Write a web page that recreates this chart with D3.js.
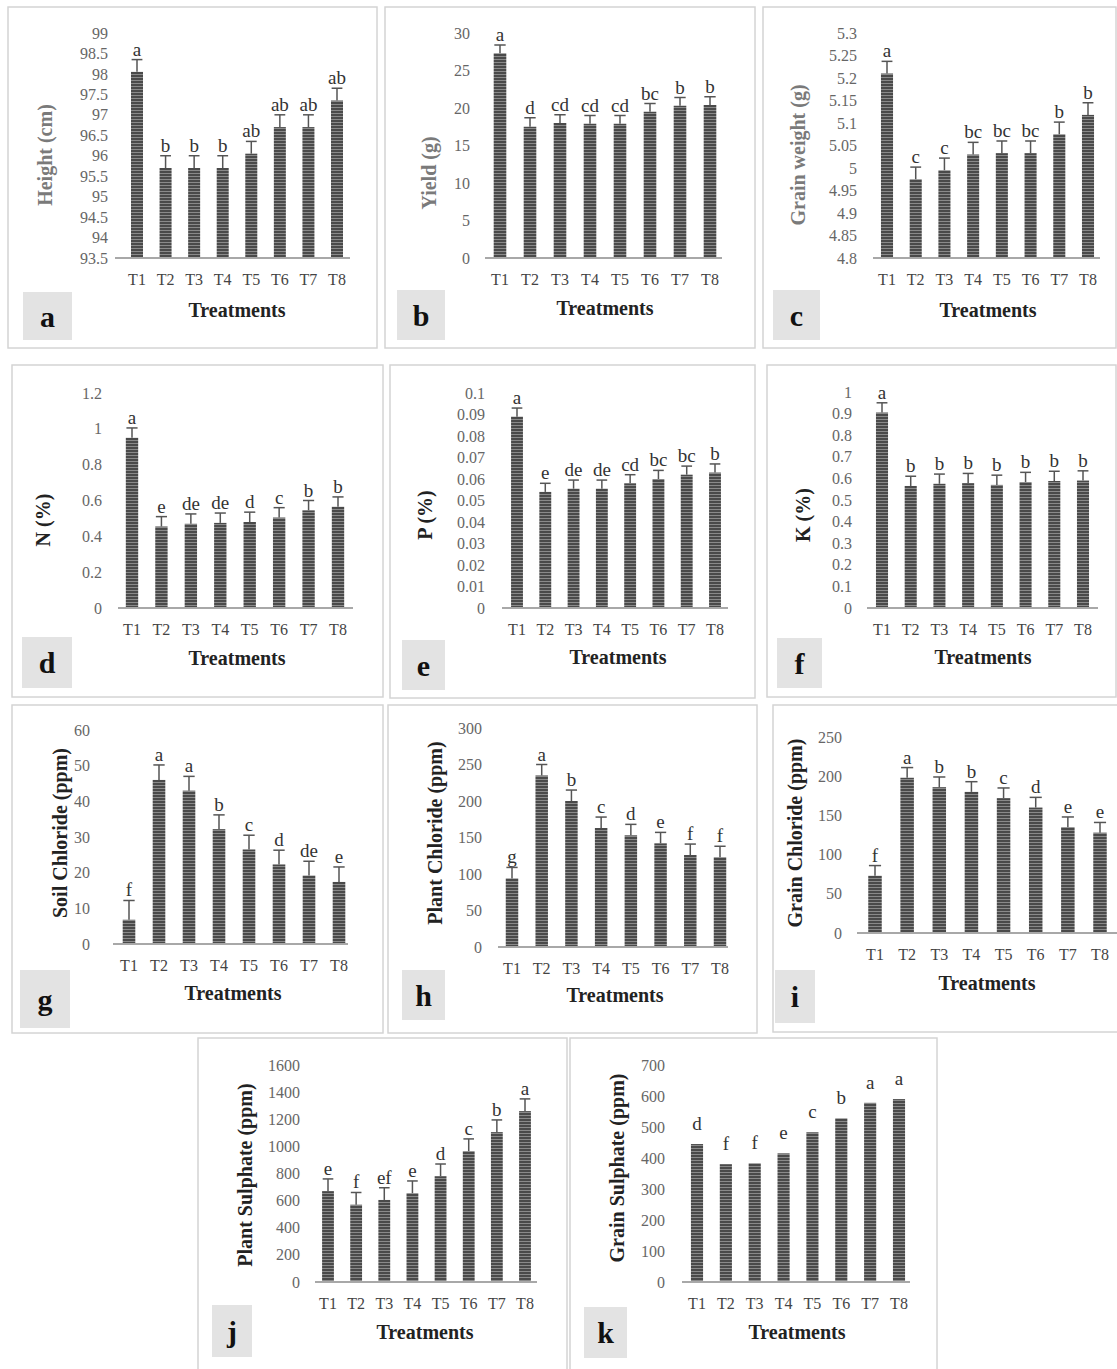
<!DOCTYPE html>
<html>
<head>
<meta charset="utf-8">
<script src="https://cdn.jsdelivr.net/npm/d3@7"></script>
<style>
  body { margin: 0; background: #fff; }
  svg { display: block; font-family: "Liberation Serif", "DejaVu Serif", serif; }
</style>
</head>
<body>
<div id="chart"></div>
<script>
let treatments = ["T1", "T2", "T3", "T4", "T5", "T6", "T7", "T8"];

// a - height
let heightVals = [98.05, 95.7, 95.7, 95.7, 96.05, 96.7, 96.7, 97.35];
let heightErr = [0.3, 0.3, 0.3, 0.3, 0.3, 0.3, 0.3, 0.3];
let heightLetters = ["a", "b", "b", "b", "ab", "ab", "ab", "ab"];
let heightTicks = [93.5, 94, 94.5, 95, 95.5, 96, 96.5, 97, 97.5, 98, 98.5, 99];

// b - yield
let yieldVals = [27.3, 17.5, 18.0, 17.9, 17.9, 19.5, 20.3, 20.4];
let yieldErr = [1.1, 1.2, 1.1, 1.1, 1.1, 1.1, 1.1, 1.1];
let yieldLetters = ["a", "d", "cd", "cd", "cd", "bc", "b", "b"];
let yieldTicks = [0, 5, 10, 15, 20, 25, 30];

// c - grain weight
let grainWVals = [5.21, 4.975, 4.995, 5.03, 5.033, 5.033, 5.075, 5.118];
let grainWErr = [0.027, 0.027, 0.027, 0.027, 0.027, 0.027, 0.027, 0.027];
let grainWLetters = ["a", "c", "c", "bc", "bc", "bc", "b", "b"];
let grainWTicks = [4.8, 4.85, 4.9, 4.95, 5, 5.05, 5.1, 5.15, 5.2, 5.25, 5.3];

// d - N
let nVals = [0.95, 0.455, 0.47, 0.475, 0.48, 0.505, 0.545, 0.565];
let nErr = [0.055, 0.055, 0.055, 0.055, 0.055, 0.055, 0.055, 0.055];
let nLetters = ["a", "e", "de", "de", "d", "c", "b", "b"];
let nTicks = [0, 0.2, 0.4, 0.6, 0.8, 1, 1.2];

// e - P
let pVals = [0.089, 0.054, 0.0555, 0.0555, 0.058, 0.060, 0.062, 0.063];
let pErr = [0.004, 0.004, 0.004, 0.004, 0.004, 0.004, 0.004, 0.004];
let pLetters = ["a", "e", "de", "de", "cd", "bc", "bc", "b"];
let pTicks = [0, 0.01, 0.02, 0.03, 0.04, 0.05, 0.06, 0.07, 0.08, 0.09, 0.1];

// f - K
let kVals = [0.905, 0.565, 0.575, 0.578, 0.57, 0.583, 0.588, 0.59];
let kErr = [0.045, 0.045, 0.045, 0.045, 0.045, 0.045, 0.045, 0.045];
let kLetters = ["a", "b", "b", "b", "b", "b", "b", "b"];
let kTicks = [0, 0.1, 0.2, 0.3, 0.4, 0.5, 0.6, 0.7, 0.8, 0.9, 1];

// g - soil chloride
let soilClVals = [6.8, 46, 43, 32.2, 26.5, 22.3, 19.2, 17.4];
let soilClErr = [5.4, 4.2, 4, 4, 4, 4, 4, 4.2];
let soilClLetters = ["f", "a", "a", "b", "c", "d", "de", "e"];
let soilClTicks = [0, 10, 20, 30, 40, 50, 60];

// h - plant chloride
let plantClVals = [94, 235, 200, 163, 153, 142, 126, 123];
let plantClErr = [15, 15, 15, 15, 15, 15, 15, 15];
let plantClLetters = ["g", "a", "b", "c", "d", "e", "f", "f"];
let plantClTicks = [0, 50, 100, 150, 200, 250, 300];

// i - grain chloride
let grainClVals = [73, 198, 186, 180, 172, 160, 135, 128];
let grainClErr = [13, 13, 13, 13, 13, 13, 13, 13];
let grainClLetters = ["f", "a", "b", "b", "c", "d", "e", "e"];
let grainClTicks = [0, 50, 100, 150, 200, 250];

// j - plant sulphate
let plantSVals = [670, 570, 605, 655, 780, 965, 1105, 1260];
let plantSErr = [90, 90, 90, 90, 90, 90, 90, 90];
let plantSLetters = ["e", "f", "ef", "e", "d", "c", "b", "a"];
let plantSTicks = [0, 200, 400, 600, 800, 1000, 1200, 1400, 1600];

// k - grain sulphate (no error bars)
let grainSVals = [445, 380, 383, 415, 483, 528, 578, 590];
let grainSLetters = ["d", "f", "f", "e", "c", "b", "a", "a"];
let grainSTicks = [0, 100, 200, 300, 400, 500, 600, 700];

// layout of each panel
let panels = [
  {tag: "a", vals: heightVals, err: heightErr, letters: heightLetters, ticks: heightTicks, title: "Height (cm)", grey: true,
   box: [8, 7, 369, 341], base: 258, top: 33, tickRight: 108, axis: [115, 350], centers: [137, 337], titleXY: [45, 155], treatXY: [237, 310], tagBox: [23, 292, 49, 48]},
  {tag: "b", vals: yieldVals, err: yieldErr, letters: yieldLetters, ticks: yieldTicks, title: "Yield (g)", grey: true,
   box: [385, 7, 370, 341], base: 258, top: 33, tickRight: 470, axis: [485, 722], centers: [500, 710], titleXY: [429, 173], treatXY: [605, 308], tagBox: [397, 290, 48, 50]},
  {tag: "c", vals: grainWVals, err: grainWErr, letters: grainWLetters, ticks: grainWTicks, title: "Grain weight (g)", grey: true,
   box: [763, 7, 353, 341], base: 258, top: 33, tickRight: 857, axis: [873, 1100], centers: [887, 1088], titleXY: [798, 155], treatXY: [988, 310], tagBox: [773, 290, 47, 50]},
  {tag: "d", vals: nVals, err: nErr, letters: nLetters, ticks: nTicks, title: "N (%)",
   box: [12, 365, 371, 332], base: 608, top: 393, tickRight: 102, axis: [118, 353], centers: [132, 338], titleXY: [43, 520], treatXY: [237, 658], tagBox: [22, 637, 50, 51]},
  {tag: "e", vals: pVals, err: pErr, letters: pLetters, ticks: pTicks, title: "P (%)",
   box: [390, 365, 365, 333], base: 608, top: 393, tickRight: 485, axis: [502, 728], centers: [517, 715], titleXY: [425, 515], treatXY: [618, 657], tagBox: [402, 640, 43, 50]},
  {tag: "f", vals: kVals, err: kErr, letters: kLetters, ticks: kTicks, title: "K (%)",
   box: [767, 365, 349, 332], base: 608, top: 392, tickRight: 852, axis: [867, 1098], centers: [882, 1083], titleXY: [803, 515], treatXY: [983, 657], tagBox: [777, 638, 45, 50]},
  {tag: "g", vals: soilClVals, err: soilClErr, letters: soilClLetters, ticks: soilClTicks, title: "Soil Chloride (ppm)",
   box: [12, 705, 371, 328], base: 944, top: 730, tickRight: 90, axis: [113, 348], centers: [129, 339], titleXY: [60, 833], treatXY: [233, 993], tagBox: [20, 970, 50, 58]},
  {tag: "h", vals: plantClVals, err: plantClErr, letters: plantClLetters, ticks: plantClTicks, title: "Plant Chloride (ppm)",
   box: [388, 705, 369, 328], base: 947, top: 728, tickRight: 482, axis: [498, 728], centers: [512, 720], titleXY: [435, 833], treatXY: [615, 995], tagBox: [402, 970, 43, 50]},
  {tag: "i", vals: grainClVals, err: grainClErr, letters: grainClLetters, ticks: grainClTicks, title: "Grain Chloride (ppm)",
   box: [773, 705, 350, 327], base: 933, top: 737, tickRight: 842, axis: [857, 1117], centers: [875, 1100], titleXY: [795, 833], treatXY: [987, 983], tagBox: [775, 970, 40, 53]},
  {tag: "j", vals: plantSVals, err: plantSErr, letters: plantSLetters, ticks: plantSTicks, title: "Plant Sulphate (ppm)",
   box: [198, 1038, 369, 340], base: 1282, top: 1065, tickRight: 300, axis: [315, 537], centers: [328, 525], titleXY: [245, 1175], treatXY: [425, 1332], tagBox: [212, 1305, 40, 52]},
  {tag: "k", vals: grainSVals, err: null, letters: grainSLetters, ticks: grainSTicks, title: "Grain Sulphate (ppm)", letterGap: 14,
   box: [570, 1038, 367, 340], base: 1282, top: 1065, tickRight: 665, axis: [682, 910], centers: [697, 899], titleXY: [617, 1168], treatXY: [797, 1332], tagBox: [584, 1307, 43, 51]}
];

let svg = d3.select("#chart")
    .append("svg")
    .attr("width", 1117)
    .attr("height", 1369);

// striped bar fill
let pat = svg.append("defs").append("pattern")
    .attr("id", "stripes")
    .attr("patternUnits", "userSpaceOnUse")
    .attr("width", 6)
    .attr("height", 3);
pat.append("rect").attr("width", 6).attr("height", 3).attr("fill", "#8a8a8a");
pat.append("rect").attr("width", 6).attr("height", 2).attr("fill", "#4a4a4a");

panels.forEach(p => {
    let g = svg.append("g");

    g.append("rect")
        .attr("x", p.box[0]).attr("y", p.box[1])
        .attr("width", p.box[2]).attr("height", p.box[3])
        .attr("fill", "none")
        .attr("stroke", "#d4d4d4")
        .attr("stroke-width", 1.5);

    let y = d3.scaleLinear()
        .domain([p.ticks[0], p.ticks[p.ticks.length - 1]])
        .range([p.base, p.top]);

    let step = (p.centers[1] - p.centers[0]) / (treatments.length - 1);
    let x = d3.scaleBand()
        .domain(treatments)
        .range([p.centers[0] - step / 2, p.centers[1] + step / 2])
        .paddingInner(0.58)
        .paddingOuter(0.29);
    let bw = x.bandwidth();

    // y tick labels
    g.selectAll(".ytick")
        .data(p.ticks)
        .enter()
        .append("text")
        .attr("x", p.tickRight)
        .attr("y", d => y(d))
        .attr("dy", "0.35em")
        .attr("text-anchor", "end")
        .attr("font-size", 16)
        .attr("fill", "#666")
        .text(d => String(d));

    // bars
    g.selectAll(".bar")
        .data(p.vals)
        .enter()
        .append("rect")
        .attr("x", (d, i) => x(treatments[i]))
        .attr("y", d => y(d))
        .attr("width", bw)
        .attr("height", d => p.base - y(d))
        .attr("fill", "url(#stripes)");

    // error bars
    if (p.err) {
        p.vals.forEach((v, i) => {
            let cx = x(treatments[i]) + bw / 2;
            g.append("line")
                .attr("x1", cx).attr("x2", cx)
                .attr("y1", y(v)).attr("y2", y(v + p.err[i]))
                .attr("stroke", "#555").attr("stroke-width", 1.5);
            g.append("line")
                .attr("x1", cx - bw * 0.45).attr("x2", cx + bw * 0.45)
                .attr("y1", y(v + p.err[i])).attr("y2", y(v + p.err[i]))
                .attr("stroke", "#555").attr("stroke-width", 1.5);
        });
    }

    // significance letters
    g.selectAll(".letter")
        .data(p.letters)
        .enter()
        .append("text")
        .attr("x", (d, i) => x(treatments[i]) + bw / 2)
        .attr("y", (d, i) => y(p.vals[i] + (p.err ? p.err[i] : 0)) - (p.letterGap || 4))
        .attr("text-anchor", "middle")
        .attr("font-size", 19)
        .attr("fill", "#333")
        .text(d => d);

    // x axis line
    g.append("line")
        .attr("x1", p.axis[0]).attr("x2", p.axis[1])
        .attr("y1", p.base).attr("y2", p.base)
        .attr("stroke", "#a8a8a8")
        .attr("stroke-width", 2);

    // x tick labels
    g.selectAll(".xtick")
        .data(treatments)
        .enter()
        .append("text")
        .attr("x", d => x(d) + bw / 2)
        .attr("y", p.base + 21)
        .attr("dy", "0.35em")
        .attr("text-anchor", "middle")
        .attr("font-size", 16)
        .attr("fill", "#444")
        .text(d => d);

    g.append("text")
        .attr("x", p.treatXY[0])
        .attr("y", p.treatXY[1])
        .attr("dy", "0.35em")
        .attr("text-anchor", "middle")
        .attr("font-size", 20)
        .attr("font-weight", "bold")
        .attr("fill", "#222")
        .text("Treatments");

    g.append("text")
        .attr("transform", "translate(" + p.titleXY[0] + "," + p.titleXY[1] + ") rotate(-90)")
        .attr("dy", "0.35em")
        .attr("text-anchor", "middle")
        .attr("font-size", 20)
        .attr("font-weight", "bold")
        .attr("fill", p.grey ? "#7a7a7a" : "#222")
        .text(p.title);

    // panel tag
    g.append("rect")
        .attr("x", p.tagBox[0]).attr("y", p.tagBox[1])
        .attr("width", p.tagBox[2]).attr("height", p.tagBox[3])
        .attr("fill", "#e3e3e3");
    g.append("text")
        .attr("x", p.tagBox[0] + p.tagBox[2] / 2)
        .attr("y", p.tagBox[1] + p.tagBox[3] / 2)
        .attr("dy", "0.35em")
        .attr("text-anchor", "middle")
        .attr("font-size", 30)
        .attr("font-weight", "bold")
        .attr("fill", "#111")
        .text(p.tag);
});
</script>
</body>
</html>
